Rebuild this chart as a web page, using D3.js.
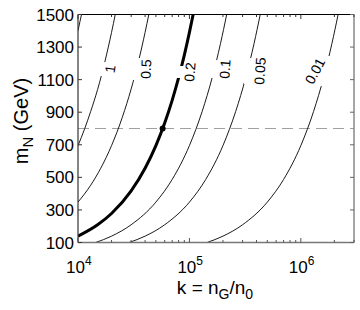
<!DOCTYPE html>
<html>
<head>
<meta charset="utf-8">
<script src="https://cdn.jsdelivr.net/npm/d3@7"></script>
<style>
  body { margin: 0; background: #fff; }
  text { font-family: "Liberation Sans", Arial, Helvetica, sans-serif; }
</style>
</head>
<body>
<div id="chart"></div>
<script>
// contour levels and the (k, mN) points
var levels = [2, 1, 0.5, 0.2, 0.1, 0.05, 0.01];
var c2    = [[1.0e4, 1400], [1.04e4, 1455], [1.075e4, 1500]];
var c1    = [[1.0e4, 695], [1.15e4, 800], [1.3e4, 905], [1.5e4, 1040], [1.75e4, 1215], [2.0e4, 1390], [2.16e4, 1500]];
var c05   = [[1.0e4, 348], [1.3e4, 452], [1.6e4, 556], [2.0e4, 695], [2.5e4, 869], [3.0e4, 1043], [3.5e4, 1216], [4.0e4, 1390], [4.32e4, 1500]];
var c02   = [[1.0e4, 139], [1.5e4, 209], [2.0e4, 278], [3.0e4, 417], [4.0e4, 556], [5.0e4, 695], [6.0e4, 834], [7.0e4, 973], [8.0e4, 1112], [9.0e4, 1251], [1.0e5, 1390], [1.08e5, 1500]];
var c01   = [[1.44e4, 100], [2.0e4, 139], [3.0e4, 209], [5.0e4, 348], [7.0e4, 487], [1.0e5, 695], [1.3e5, 904], [1.6e5, 1112], [1.9e5, 1321], [2.16e5, 1500]];
var c005  = [[2.88e4, 100], [4.0e4, 139], [6.0e4, 209], [1.0e5, 348], [1.4e5, 487], [2.0e5, 695], [2.6e5, 904], [3.2e5, 1112], [3.8e5, 1321], [4.32e5, 1500]];
var c001  = [[1.44e5, 100], [2.0e5, 139], [3.0e5, 209], [5.0e5, 348], [7.0e5, 487], [1.0e6, 695], [1.3e6, 904], [1.6e6, 1112], [1.9e6, 1321], [2.16e6, 1500]];
var curves = [c2, c1, c05, c02, c01, c005, c001];

var yTicks = [100, 300, 500, 700, 900, 1100, 1300, 1500];
var xTicks = [1e4, 1e5, 1e6];
var mCut = 800;                 // dashed line
var point = [5.75e4, 800];      // marked point on the 0.2 curve

// inline contour labels: text, where it sits (k, m), rotation, half height of the line gap
var labelLayout = [
  { text: "1",    k: 1.94e4, m: 1165, rot: -82, gap: 7 },
  { text: "0.5",  k: 4.07e4, m: 1165, rot: -88, gap: 11 },
  { text: "0.2",  k: 1.01e5, m: 1147, rot: -86, gap: 6 },
  { text: "0.1",  k: 2.09e5, m: 1165, rot: -86, gap: 9 },
  { text: "0.05", k: 4.30e5, m: 1153, rot: -86, gap: 13 },
  { text: "0.01", k: 1.34e6, m: 1153, rot: -62, gap: 15 }
];

var W = 360, H = 310;
var x = d3.scaleLog().domain([1e4, 3e6]).range([78, 354]);
var y = d3.scaleLinear().domain([100, 1500]).range([242.5, 14.5]);

var svg = d3.select("#chart").append("svg")
    .attr("width", W).attr("height", H);

// mask that cuts the line where labels go
var defs = svg.append("defs");
defs.append("clipPath").attr("id", "plotclip")
  .append("rect").attr("x", 78).attr("y", 14.5).attr("width", 276).attr("height", 228);
var mask = defs.append("mask").attr("id", "gaps");
mask.append("rect").attr("width", W).attr("height", H).attr("fill", "white");
labelLayout.forEach(function(d) {
  mask.append("rect")
    .attr("x", x(d.k) - 16).attr("y", y(d.m) - d.gap)
    .attr("width", 32).attr("height", 2 * d.gap)
    .attr("fill", "black");
});

// dashed line at mN = 800
svg.append("line")
  .attr("x1", x.range()[0]).attr("x2", x.range()[1])
  .attr("y1", y(mCut)).attr("y2", y(mCut))
  .attr("stroke", "#a0a0a0").attr("stroke-width", 1)
  .attr("stroke-dasharray", "11,6");

var line = d3.line()
  .x(function(d) { return x(d[0]); })
  .y(function(d) { return y(d[1]); })
  .curve(d3.curveMonotoneX);

var g = svg.append("g").attr("clip-path", "url(#plotclip)")
  .append("g").attr("mask", "url(#gaps)");
g.selectAll("path.ct")
  .data(curves).enter()
  .append("path")
    .attr("class", "ct")
    .attr("d", line)
    .attr("fill", "none")
    .attr("stroke", "#000")
    .attr("stroke-width", function(d, i) { return levels[i] == 0.2 ? 3 : 0.9; });

svg.append("circle")
  .attr("cx", x(point[0])).attr("cy", y(point[1]))
  .attr("r", 3).attr("fill", "#000");

svg.selectAll("text.lab")
  .data(labelLayout).enter()
  .append("text")
    .attr("class", "lab")
    .attr("transform", function(d) { return "translate(" + x(d.k) + "," + y(d.m) + ") rotate(" + d.rot + ")"; })
    .attr("text-anchor", "middle")
    .attr("dy", "0.35em")
    .attr("font-size", 14)
    .text(function(d) { return d.text; });

// frame
var x0 = 78, x1 = 354, y0 = 14.5, y1 = 242.5;
svg.append("line").attr("x1", x0).attr("x2", x1).attr("y1", y0).attr("y2", y0).attr("stroke", "#000");
svg.append("line").attr("x1", x0).attr("x2", x0).attr("y1", y0).attr("y2", y1).attr("stroke", "#333").attr("stroke-width", 1.2);
svg.append("line").attr("x1", x0).attr("x2", x1).attr("y1", y1).attr("y2", y1).attr("stroke", "#777").attr("stroke-width", 1.4);
svg.append("line").attr("x1", x1).attr("x2", x1).attr("y1", y0).attr("y2", y1).attr("stroke", "#808080").attr("stroke-width", 1.4);

// y ticks, both sides
var yt = svg.append("g");
yTicks.forEach(function(v) {
  yt.append("line").attr("x1", x0).attr("x2", x0 + 4).attr("y1", y(v)).attr("y2", y(v)).attr("stroke", "#333");
  yt.append("line").attr("x1", x1 - 4).attr("x2", x1).attr("y1", y(v)).attr("y2", y(v)).attr("stroke", "#666");
  yt.append("text")
    .attr("x", 74).attr("y", y(v)).attr("dy", "0.36em")
    .attr("text-anchor", "end").attr("font-size", 17)
    .text(v);
});

// x ticks, major and minor, bottom and top
var minor = x.ticks().filter(function(v) { return xTicks.indexOf(v) < 0; });
minor.forEach(function(v) {
  svg.append("line").attr("x1", x(v)).attr("x2", x(v)).attr("y1", y1).attr("y2", y1 - 2.5).attr("stroke", "#555");
  svg.append("line").attr("x1", x(v)).attr("x2", x(v)).attr("y1", y0).attr("y2", y0 + 2.5).attr("stroke", "#333");
});
xTicks.forEach(function(v) {
  svg.append("line").attr("x1", x(v)).attr("x2", x(v)).attr("y1", y1).attr("y2", y1 - 4.5).attr("stroke", "#555");
  svg.append("line").attr("x1", x(v)).attr("x2", x(v)).attr("y1", y0).attr("y2", y0 + 4.5).attr("stroke", "#333");
  var t = svg.append("text")
    .attr("x", x(v) - 12).attr("y", 273)
    .attr("font-size", 17);
  t.append("tspan").text("10");
  t.append("tspan").attr("dy", -8).attr("font-size", 12).text(Math.round(Math.log10(v)));
});

// axis titles
var xl = svg.append("text")
  .attr("x", 215).attr("y", 294)
  .attr("text-anchor", "middle").attr("font-size", 19);
xl.append("tspan").text("k = n");
xl.append("tspan").attr("dy", 5).attr("font-size", 14).text("G");
xl.append("tspan").attr("dy", -5).text("/n");
xl.append("tspan").attr("dy", 5).attr("font-size", 14).text("0");

var yl = svg.append("text")
  .attr("transform", "translate(28,121) rotate(-90)")
  .attr("text-anchor", "middle").attr("font-size", 20);
yl.append("tspan").text("m");
yl.append("tspan").attr("dy", 5).attr("font-size", 15).text("N");
yl.append("tspan").attr("dy", -5).text(" (GeV)");
</script>
</body>
</html>
